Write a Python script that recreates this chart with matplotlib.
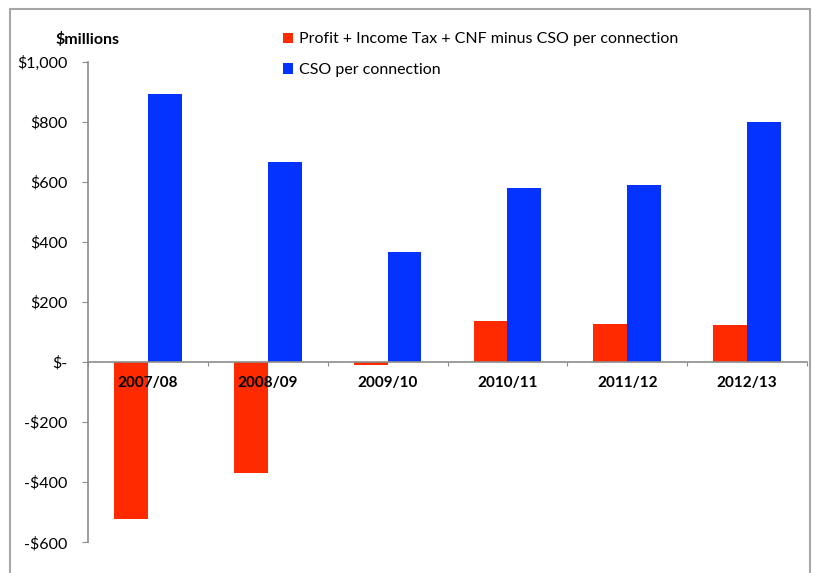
import matplotlib
matplotlib.use("Agg")
from matplotlib import pyplot as plt
from matplotlib.patches import Rectangle
import numpy as np

years = ["2007/08", "2008/09", "2009/10", "2010/11", "2011/12", "2012/13"]
profit_minus_cso = [-523, -370, -10, 138, 128, 123]
cso = [894, 666, 365, 581, 588, 800]
yticks = [-600, -400, -200, 0, 200, 400, 600, 800, 1000]
ytick_labels = ["-$600", "-$400", "-$200", "$-", "$200", "$400", "$600", "$800", "$1,000"]

plt.rcParams['font.family'] = ['Lato', 'DejaVu Sans']
fig = plt.figure(figsize=(8.13, 5.73), dpi=100)
W, H = 813, 573

# grey frame round the chart
fig.patches.append(Rectangle((10 / W, -0.05), 800 / W, 1.05 - 9 / H,
                             transform=fig.transFigure, fill=False,
                             ec='#a6a6a6', lw=1.5))

ax = fig.add_axes([88 / W, 1 - 542.3 / H, (807 - 88) / W, (542.3 - 61.7) / H])

x = np.arange(len(years))
w = 0.283
ax.bar(x - w / 2, profit_minus_cso, w, color='#ff2a00',
       label='Profit + Income Tax + CNF minus CSO per connection')
ax.bar(x + w / 2, cso, w, color='#0433ff', label='CSO per connection')

ax.set_xlim(-0.5, len(years) - 0.5)
ax.set_ylim(-600, 1000)
ax.set_yticks(yticks)
ax.set_yticklabels(ytick_labels, fontsize=11.5)

for s in ['top', 'right']:
    ax.spines[s].set_visible(False)
ax.spines['bottom'].set_position(('data', 0))
for s in ['left', 'bottom']:
    ax.spines[s].set_color('#8c8c8c')
    ax.spines[s].set_linewidth(1.2)

ax.set_xticks(np.arange(len(years) + 1) - 0.5)
ax.set_xticklabels([])
ax.tick_params(axis='x', direction='out', length=3, color='#8c8c8c')
ax.tick_params(axis='y', direction='out', length=4, color='#8c8c8c', pad=11)

for i, yr in enumerate(years):
    ax.text(i, -47, yr, ha='center', va='top', fontsize=11,
            fontweight='bold')

fig.text(87 / W, 1 - 40 / H, '$millions', ha='center', va='center',
         fontsize=11.5, fontweight='bold')

ax.legend(loc='upper left', bbox_to_anchor=(269 / W, 1 - 18 / H),
          bbox_transform=fig.transFigure, frameon=False, fontsize=11.5,
          handlelength=0.6, handleheight=0.6, handletextpad=0.4,
          labelspacing=1.05)

fig.savefig('out.png', dpi=100)
